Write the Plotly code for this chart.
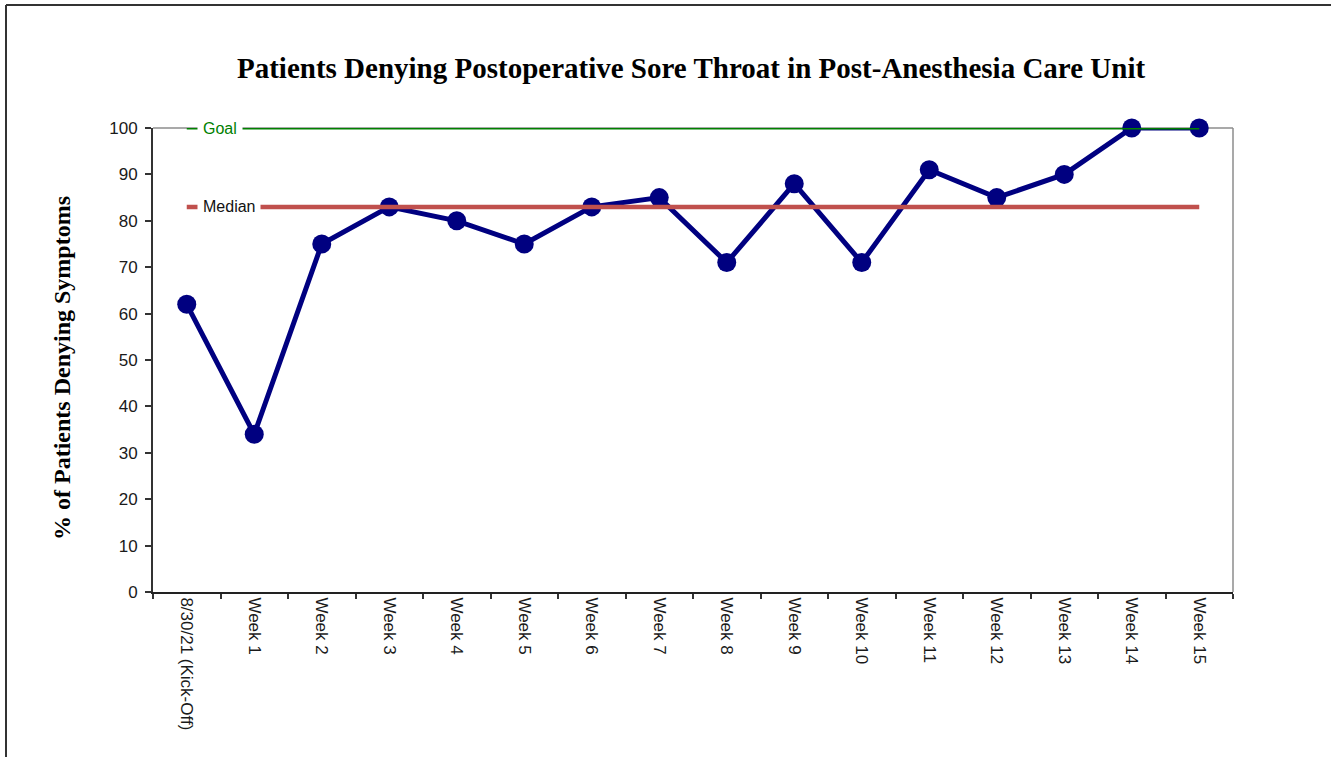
import plotly.graph_objects as go

categories = ["8/30/21 (Kick-Off)", "Week 1", "Week 2", "Week 3", "Week 4", "Week 5",
              "Week 6", "Week 7", "Week 8", "Week 9", "Week 10", "Week 11", "Week 12",
              "Week 13", "Week 14", "Week 15"]
pct_denying = [62, 34, 75, 83, 80, 75, 83, 85, 71, 88, 71, 91, 85, 90, 100, 100]
goal_value = 100
median_value = 83
y_ticks = [0, 10, 20, 30, 40, 50, 60, 70, 80, 90, 100]

W, H = 1331, 757
L, R, T, B = 153, 98, 128, 165
pw, ph = W - L - R, H - T - B

def px_x(p):
    return (p - L) / pw

def px_y(p):
    return (H - B - p) / ph

fig = go.Figure()

fig.add_trace(go.Scatter(
    x=categories, y=pct_denying, mode="lines+markers",
    line=dict(color="#000080", width=5),
    marker=dict(color="#000080", size=19),
    cliponaxis=False, showlegend=False, hoverinfo="x+y"))

fig.add_trace(go.Scatter(
    x=categories, y=[median_value] * len(categories), mode="lines",
    line=dict(color="#C0504D", width=4.5), cliponaxis=False, showlegend=False))

fig.add_trace(go.Scatter(
    x=categories, y=[goal_value] * len(categories), mode="lines",
    line=dict(color="#008000", width=3), cliponaxis=False, showlegend=False))

ann_font = "Liberation Sans, Arial, sans-serif"
title_font = "Liberation Serif, Times New Roman, serif"

annotations = [
    dict(text="Goal", x=px_x(197), y=goal_value, xref="paper", yref="y",
         xanchor="left", yanchor="middle", showarrow=False, bgcolor="white",
         borderpad=5, font=dict(family=ann_font, size=16, color="#008000")),
    dict(text="Median", x=px_x(197), y=median_value, xref="paper", yref="y",
         xanchor="left", yanchor="middle", showarrow=False, bgcolor="white",
         borderpad=5, font=dict(family=ann_font, size=16, color="#111111")),
    dict(text="<b>Patients Denying Postoperative Sore Throat in Post-Anesthesia Care Unit</b>",
         x=px_x(690.5), y=px_y(68), xref="paper", yref="paper",
         xanchor="center", yanchor="middle", showarrow=False,
         font=dict(family=title_font, size=29, color="black")),
    dict(text="<b>% of Patients Denying Symptoms</b>",
         x=px_x(62), y=px_y(368), xref="paper", yref="paper", textangle=-90,
         xanchor="center", yanchor="middle", showarrow=False,
         font=dict(family=title_font, size=24, color="black")),
]

shapes = [
    # page border (top and left)
    dict(type="line", xref="paper", yref="paper", x0=px_x(6), x1=px_x(1331),
         y0=px_y(5), y1=px_y(5), line=dict(color="#333333", width=2)),
    dict(type="line", xref="paper", yref="paper", x0=px_x(6), x1=px_x(6),
         y0=px_y(5), y1=px_y(757), line=dict(color="#333333", width=2)),
    # plot area top and right edges
    dict(type="line", xref="paper", yref="paper", x0=0, x1=1, y0=1, y1=1,
         line=dict(color="#8c8c8c", width=1.5), layer="below"),
    dict(type="line", xref="paper", yref="paper", x0=1, x1=1, y0=0, y1=1,
         line=dict(color="#8c8c8c", width=1.5), layer="below"),
]

fig.update_layout(
    width=W, height=H,
    margin=dict(l=L, r=R, t=T, b=B, pad=0),
    paper_bgcolor="white", plot_bgcolor="white",
    showlegend=False,
    annotations=annotations,
    shapes=shapes,
    font=dict(family=ann_font, size=17, color="#1a1a1a"),
)

fig.update_xaxes(
    type="category", range=[-0.5, len(categories) - 0.5],
    tickson="boundaries", ticks="outside", ticklen=5, tickwidth=1.5, tickcolor="#333333",
    showline=True, linecolor="#222222", linewidth=2,
    showgrid=False, zeroline=False, tickangle=90,
    tickfont=dict(family=ann_font, size=17, color="#1a1a1a"),
)
fig.update_yaxes(
    range=[0, 100], tickvals=y_ticks, ticks="outside", ticklen=6, tickwidth=1.5,
    tickcolor="#333333", showline=True, linecolor="#333333", linewidth=2,
    showgrid=False, zeroline=False, ticklabelstandoff=4,
    tickfont=dict(family=ann_font, size=17, color="#1a1a1a"),
)

fig.write_html("out.html")
